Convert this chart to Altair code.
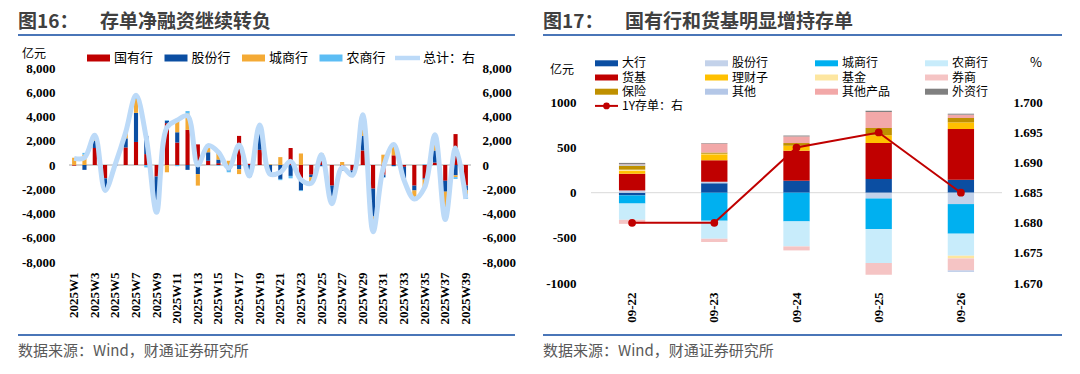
import altair as alt
import pandas as pd

# ---------------- Left chart data (图16) ----------------
weeks = ["2025W1", "2025W2", "2025W3", "2025W4", "2025W5", "2025W6", "2025W7", "2025W8",
         "2025W9", "2025W10", "2025W11", "2025W12", "2025W13", "2025W14", "2025W15",
         "2025W16", "2025W17", "2025W18", "2025W19", "2025W20", "2025W21", "2025W22",
         "2025W23", "2025W24", "2025W25", "2025W26", "2025W27", "2025W28", "2025W29",
         "2025W30", "2025W31", "2025W32", "2025W33", "2025W34", "2025W35", "2025W36",
         "2025W37", "2025W38", "2025W39"]
week_labels = weeks[::2]
guoyou = [-50, 0, 1400, -1100, 100, 1450, 1900, 900, -950, 3450, 1850, 2900, 1700, 350, 150,
          0, 2400, 100, 1250, 0, 0, 1400, -1200, -800, 600, -1700, -350, -450, 1200, -1950,
          -800, 800, -150, -1700, -1100, 200, -1300, 2550, -1700]
gufen = [0, -400, 600, -900, -50, 750, 2400, 1500, -2250, 200, 850, -400, -750, 700, 300,
         -450, -350, -1000, 1950, -750, -1150, -900, -900, -200, -100, -850, -100, -400, 1200,
         -2300, -200, -100, -1100, -400, -100, 1000, -900, -850, -400]
chengshang = [600, 850, 300, -100, 50, 500, 1150, 0, -300, -600, 1100, 1350, -950, 400, 650,
              350, -400, 0, 0, 50, 650, 0, 950, -500, 350, -550, 250, 0, 1750, -950,
              850, 800, 0, -700, -700, 1200, -2100, -150, -300]
nongshang = [0, 150, 150, 0, 0, 0, 300, -200, -400, 50, -100, 200, 0, 150, -50,
             -150, 0, 0, 100, -50, -100, -200, -50, 0, 0, -100, 0, 0, 0, -300,
             -50, 200, 0, 0, 50, 100, -200, -150, -400]
total = [550, 600, 2450, -2100, 100, 2700, 5750, 2200, -3900, 3100, 3700, 4050, 0, 1600, 1050,
         -250, 1650, -900, 3300, -750, -600, 300, -1200, -1500, 850, -3200, -200, -850, 4150,
         -5500, -200, 1700, -1250, -2800, -1850, 2500, -4500, 1400, -2800]
left_names = ["国有行", "股份行", "城商行", "农商行"]
left_colors = ["#c00000", "#0b4ea2", "#f4aa35", "#5cbdf4"]
total_name = "总计：右"
total_color = "#bcdaf8"

# ---------------- Right chart data (图17) ----------------
dates = ["09-22", "09-23", "09-24", "09-25", "09-26"]
dahang = [-30, 105, 133, 151, 144]
gufenhang = [25, 15, 0, -63, -126]
chengshanghang = [-90, -310, -318, -340, -328]
nongshanghang = [-180, -200, -277, -376, -244]
huoji = [185, 240, 332, 399, 561]
licaizi = [30, 65, 55, 85, 74]
jijin = [15, 5, 0, 0, -30]
quanshang = [-45, -35, -44, -129, -133]
baoxian = [45, 15, 30, 81, 48]
qita = [10, 0, 0, 0, -15]
qitachanpin = [5, 100, 73, 177, 37]
waizihang = [15, 5, 10, 15, 11]
rate_1y = [1.680, 1.680, 1.6925, 1.695, 1.685]
right_names = ["大行", "股份行", "城商行", "农商行", "货基", "理财子", "基金", "券商",
               "保险", "其他", "其他产品", "外资行"]
right_colors = ["#0b4ea2", "#c3d2ea", "#00b0f0", "#c8ecfb", "#c00000", "#ffc000",
                "#fde6a0", "#f5c4c4", "#bf9000", "#b4c7e7", "#f2a8a8", "#808080"]
rate_name = "1Y存单：右"
rate_color = "#c00000"

# ---------------- Build tables ----------------
left_series = [guoyou, gufen, chengshang, nongshang]
rows = []
for k, (nm, vals) in enumerate(zip(left_names, left_series)):
    for w, v in zip(weeks, vals):
        rows.append({"week": w, "bank": nm, "value": v, "idx": k})
df_left = pd.DataFrame(rows)
df_total = pd.DataFrame({"week": weeks, "total": total})

right_series = [dahang, gufenhang, chengshanghang, nongshanghang, huoji, licaizi, jijin,
                quanshang, baoxian, qita, qitachanpin, waizihang]
rows = []
for k, (nm, vals) in enumerate(zip(right_names, right_series)):
    for d, v in zip(dates, vals):
        rows.append({"date": d, "cat": nm, "value": v, "idx": k})
df_right = pd.DataFrame(rows)
df_rate = pd.DataFrame({"date": dates, "rate": rate_1y})

SERIF = "Liberation Serif"
CJK = "Noto Sans CJK SC"
one = alt.Data(values=[{"a": 1}])


def txt(x, y, s, size=13, weight="normal", color="#000000", align="left", font=CJK):
    return alt.Chart(one).mark_text(align=align, baseline="middle", fontSize=size,
                                    fontWeight=weight, color=color, font=font).encode(
        x=alt.value(x), y=alt.value(y), text=alt.value(s))


def hrule(x1, x2, y, color="#4a76b8", w=2):
    return alt.Chart(one).mark_rule(color=color, strokeWidth=w).encode(
        x=alt.value(x1), x2=alt.value(x2), y=alt.value(y))


def swatch(x0, yc, color, w=23, h=7):
    return alt.Chart(one).mark_rect(color=color).encode(
        x=alt.value(x0), x2=alt.value(x0 + w), y=alt.value(yc - h / 2), y2=alt.value(yc + h / 2))


def dot(x, y, color, size=50):
    return alt.Chart(one).mark_circle(color=color, size=size, opacity=1).encode(
        x=alt.value(x), y=alt.value(y))


label_axis = dict(labelFont=SERIF, labelFontWeight="bold", labelFontSize=13,
                  labelColor="#000000", domain=False, ticks=False, grid=False)

# ---------------- Left panel ----------------
WL, HL = 402, 194
x_left = alt.X("week:N", sort=weeks, title=None,
               scale=alt.Scale(paddingInner=0.6, paddingOuter=0.3),
               axis=alt.Axis(orient="bottom", values=week_labels, labelAngle=270,
                             labelPadding=10, labelOverlap=False, **label_axis))
yl_scale = alt.Scale(domain=[-8000, 8000], nice=False, zero=False)
yl_vals = [-8000, -6000, -4000, -2000, 0, 2000, 4000, 6000, 8000]
yl_expr = "(datum.value < 0 ? '-' : '') + format(abs(datum.value), ',')"

left_zero = alt.Chart(one).mark_rule(color="#a6a6a6", strokeWidth=1).encode(
    y=alt.Y(datum=0, scale=yl_scale, axis=None))

left_bars = alt.Chart(df_left).mark_bar().encode(
    x=x_left,
    y=alt.Y("value:Q", stack="zero", scale=yl_scale, title=None,
            axis=alt.Axis(orient="left", values=yl_vals, labelExpr=yl_expr, labelPadding=14,
                          **label_axis)),
    color=alt.Color("bank:N", scale=alt.Scale(domain=left_names, range=left_colors),
                    legend=None),
    order=alt.Order("idx:Q", sort="ascending"),
)

left_line = alt.Chart(df_total).mark_line(strokeWidth=5, color=total_color,
                                          interpolate="catmull-rom").encode(
    x=x_left,
    y=alt.Y("total:Q", scale=yl_scale, title=None,
            axis=alt.Axis(orient="right", values=yl_vals, labelExpr=yl_expr, labelPadding=11,
                          **label_axis)),
)

left_decor = [
    alt.Chart(one).mark_rect(opacity=0).encode(x=alt.value(-61), x2=alt.value(-60),
                                               y=alt.value(-60), y2=alt.value(-59)),
    txt(-51, -46, "图16：", size=19, weight="bold", color="#404040"),
    txt(31, -46, "存单净融资继续转负", size=19, weight="bold", color="#404040"),
    hrule(-51, 446, -33),
    hrule(-51, 446, 267),
    txt(-51, 283, "数据来源：Wind，财通证券研究所", size=15, color="#595959"),
    txt(-47, -14, "亿元", size=12),
]
for i, (nm, col) in enumerate(zip(left_names, left_colors)):
    x0 = 18 + 77.5 * i
    left_decor.append(swatch(x0, -10, col))
    left_decor.append(txt(x0 + 27, -10, nm, size=13))
left_decor.append(hrule(326, 351, -10, color=total_color, w=4.5))
left_decor.append(txt(354, -10, total_name, size=13))

left = alt.layer(left_zero, left_bars, left_line, *left_decor).resolve_scale(
    y="independent").properties(width=WL, height=HL)

# ---------------- Right panel ----------------
WR, HR = 411, 215
x_right = alt.X("date:N", sort=dates, title=None,
                scale=alt.Scale(paddingInner=0.68, paddingOuter=0.34),
                axis=alt.Axis(orient="bottom", labelAngle=270, labelPadding=9,
                              labelOverlap=False, **label_axis))
yr_scale = alt.Scale(domain=[-1000, 1381], nice=False, zero=False)
rate_scale = alt.Scale(domain=[1.670, 1.70571], nice=False, zero=False)

right_zero = alt.Chart(one).mark_rule(color="#d9d9d9", strokeWidth=1).encode(
    y=alt.Y(datum=0, scale=yr_scale, axis=None))

right_bars = alt.Chart(df_right).mark_bar().encode(
    x=x_right,
    y=alt.Y("value:Q", stack="zero", scale=yr_scale, title=None,
            axis=alt.Axis(orient="left", values=[-1000, -500, 0, 500, 1000],
                          labelExpr="(datum.value < 0 ? '-' : '') + format(abs(datum.value), 'd')",
                          labelPadding=15, **label_axis)),
    color=alt.Color("cat:N", scale=alt.Scale(domain=right_names, range=right_colors),
                    legend=None),
    order=alt.Order("idx:Q", sort="ascending"),
)

right_line = alt.Chart(df_rate).mark_line(color=rate_color, strokeWidth=2).encode(
    x=x_right,
    y=alt.Y("rate:Q", scale=rate_scale, title=None,
            axis=alt.Axis(orient="right", values=[1.670, 1.675, 1.680, 1.685, 1.690, 1.695, 1.700],
                          format=".3f", labelPadding=11, **label_axis)),
)
right_pts = alt.Chart(df_rate).mark_circle(size=60, opacity=1, color=rate_color).encode(
    x=x_right,
    y=alt.Y("rate:Q", scale=rate_scale, axis=None),
)

right_decor = [
    txt(-48, -46, "图17：", size=19, weight="bold", color="#404040"),
    txt(34, -46, "国有行和货基明显增持存单", size=19, weight="bold", color="#404040"),
    hrule(-48, 471, -33),
    hrule(-48, 471, 267),
    txt(-48, 283, "数据来源：Wind，财通证券研究所", size=15, color="#595959"),
    txt(-41, 2, "亿元", size=12),
    txt(439, -5, "%", size=13),
]
for i, (nm, col) in enumerate(zip(right_names, right_colors)):
    x0 = 4 + 110 * (i % 4)
    yc = -4.7 + 14.2 * (i // 4)
    right_decor.append(swatch(x0, yc, col, h=6))
    right_decor.append(txt(x0 + 27, yc, nm, size=12))
right_decor.append(hrule(4, 27, 37.9, color=rate_color, w=2))
right_decor.append(dot(15.5, 37.9, rate_color, size=45))
right_decor.append(txt(31, 37.9, rate_name, size=12))

right = alt.layer(right_zero, right_bars, right_line, right_pts, *right_decor).resolve_scale(
    y="independent").properties(width=WR, height=HR)

chart = alt.hconcat(left, right, spacing=120, bounds="flush", padding=0).resolve_scale(
    color="independent").configure_view(strokeWidth=0)

chart.save("out.html", embed_options={"renderer": "svg", "actions": False})
